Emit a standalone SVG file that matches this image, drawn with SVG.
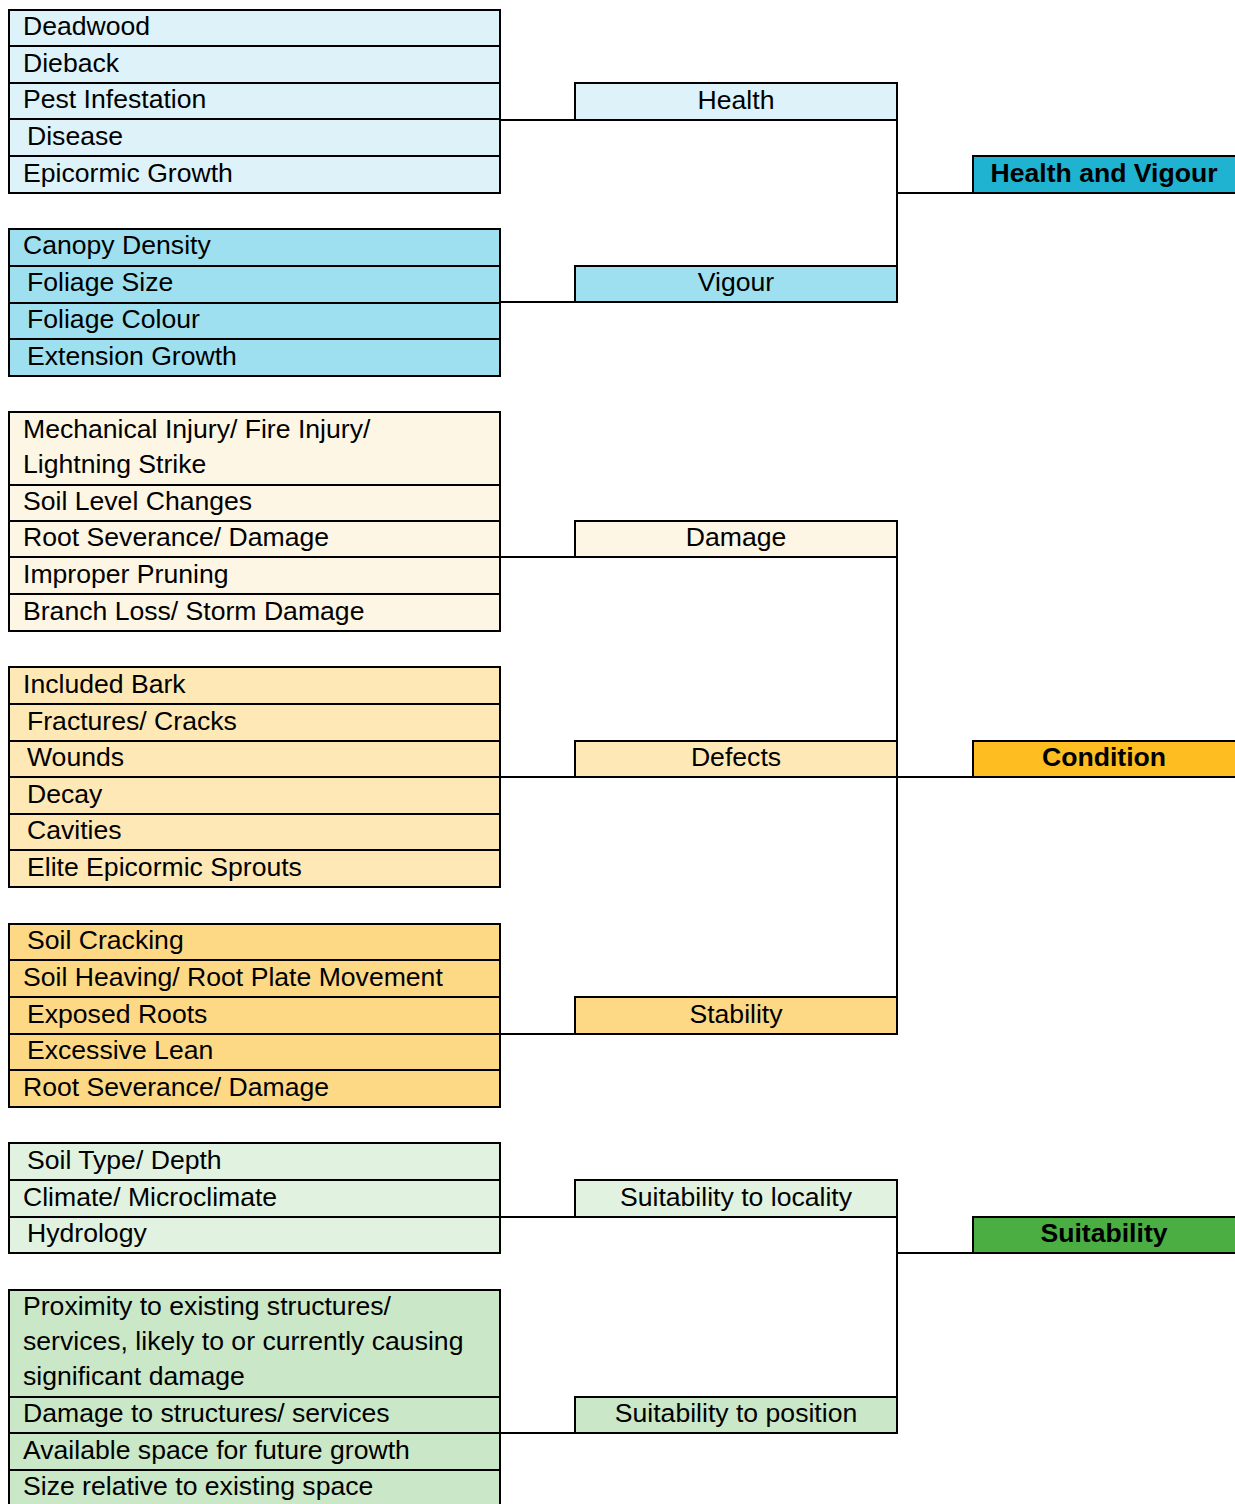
<svg xmlns="http://www.w3.org/2000/svg" width="1235" height="1504" viewBox="0 0 1235 1504">
<style>
rect{stroke:#000;stroke-width:2}
text{font-family:"Liberation Sans",Arial,sans-serif;font-size:26.6px;fill:#000}
.c{text-anchor:middle}
.b{font-weight:bold;text-anchor:middle}
.hl{fill:#DDF3F9}.vg{fill:#9EE0EF}.hv{fill:#1FB2D1}
.dm{fill:#FEF6E4}.df{fill:#FEE8B6}.st{fill:#FED985}.cn{fill:#FEBE21}
.lc{fill:#E2F2E0}.ps{fill:#CAE8C7}.su{fill:#4AAE43}
#connectors path{fill:none;stroke:#000;stroke-width:2}
</style>
<rect x="0" y="0" width="1235" height="1504" style="fill:#fff;stroke:none"/>
<g id="connectors">
<path d="M500,120H575M897,120V266M897,193H973"/>
<path d="M500,302H575"/>
<path d="M500,557H575M897,557V997M897,777H973"/>
<path d="M500,777H575"/>
<path d="M500,1034H575"/>
<path d="M500,1217H575M897,1217V1397M897,1253H973"/>
<path d="M500,1433H575"/>
</g>
<g id="health-items">
<rect class="hl" x="9" y="10" width="491" height="36"/><text x="23" y="35">Deadwood</text>
<rect class="hl" x="9" y="46" width="491" height="37"/><text x="23" y="72">Dieback</text>
<rect class="hl" x="9" y="83" width="491" height="36"/><text x="23" y="108">Pest Infestation</text>
<rect class="hl" x="9" y="119" width="491" height="37"/><text x="27" y="145">Disease</text>
<rect class="hl" x="9" y="156" width="491" height="37"/><text x="23" y="182">Epicormic Growth</text>
</g>
<g id="vigour-items">
<rect class="vg" x="9" y="229" width="491" height="37"/><text x="23" y="254">Canopy Density</text>
<rect class="vg" x="9" y="266" width="491" height="37"/><text x="27" y="291">Foliage Size</text>
<rect class="vg" x="9" y="303" width="491" height="36"/><text x="27" y="328">Foliage Colour</text>
<rect class="vg" x="9" y="339" width="491" height="37"/><text x="27" y="365">Extension Growth</text>
</g>
<g id="damage-items">
<rect class="dm" x="9" y="412" width="491" height="73"/><text x="23" y="438">Mechanical Injury/ Fire Injury/</text><text x="23" y="473">Lightning Strike</text>
<rect class="dm" x="9" y="485" width="491" height="36"/><text x="23" y="510">Soil Level Changes</text>
<rect class="dm" x="9" y="521" width="491" height="36"/><text x="23" y="546">Root Severance/ Damage</text>
<rect class="dm" x="9" y="557" width="491" height="37"/><text x="23" y="583">Improper Pruning</text>
<rect class="dm" x="9" y="594" width="491" height="37"/><text x="23" y="620">Branch Loss/ Storm Damage</text>
</g>
<g id="defects-items">
<rect class="df" x="9" y="667" width="491" height="37"/><text x="23" y="693">Included Bark</text>
<rect class="df" x="9" y="704" width="491" height="37"/><text x="27" y="730">Fractures/ Cracks</text>
<rect class="df" x="9" y="741" width="491" height="36"/><text x="27" y="766">Wounds</text>
<rect class="df" x="9" y="777" width="491" height="37"/><text x="27" y="803">Decay</text>
<rect class="df" x="9" y="814" width="491" height="36"/><text x="27" y="839">Cavities</text>
<rect class="df" x="9" y="850" width="491" height="37"/><text x="27" y="876">Elite Epicormic Sprouts</text>
</g>
<g id="stability-items">
<rect class="st" x="9" y="924" width="491" height="36"/><text x="27" y="949">Soil Cracking</text>
<rect class="st" x="9" y="960" width="491" height="37"/><text x="23" y="986">Soil Heaving/ Root Plate Movement</text>
<rect class="st" x="9" y="997" width="491" height="37"/><text x="27" y="1023">Exposed Roots</text>
<rect class="st" x="9" y="1034" width="491" height="36"/><text x="27" y="1059">Excessive Lean</text>
<rect class="st" x="9" y="1070" width="491" height="37"/><text x="23" y="1096">Root Severance/ Damage</text>
</g>
<g id="locality-items">
<rect class="lc" x="9" y="1143" width="491" height="37"/><text x="27" y="1169">Soil Type/ Depth</text>
<rect class="lc" x="9" y="1180" width="491" height="37"/><text x="23" y="1206">Climate/ Microclimate</text>
<rect class="lc" x="9" y="1217" width="491" height="36"/><text x="27" y="1242">Hydrology</text>
</g>
<g id="position-items">
<rect class="ps" x="9" y="1290" width="491" height="107"/><text x="23" y="1315">Proximity to existing structures/</text><text x="23" y="1350">services, likely to or currently causing</text><text x="23" y="1385">significant damage</text>
<rect class="ps" x="9" y="1397" width="491" height="36"/><text x="23" y="1422">Damage to structures/ services</text>
<rect class="ps" x="9" y="1433" width="491" height="37"/><text x="23" y="1459">Available space for future growth</text>
<rect class="ps" x="9" y="1470" width="491" height="40"/><text x="23" y="1495">Size relative to existing space</text>
</g>
<g id="health"><rect class="hl" x="575" y="83" width="322" height="37"/><text class="c" x="736" y="109">Health</text></g>
<g id="vigour"><rect class="vg" x="575" y="266" width="322" height="36"/><text class="c" x="736" y="291">Vigour</text></g>
<g id="damage"><rect class="dm" x="575" y="521" width="322" height="36"/><text class="c" x="736" y="546">Damage</text></g>
<g id="defects"><rect class="df" x="575" y="741" width="322" height="36"/><text class="c" x="736" y="766">Defects</text></g>
<g id="stability"><rect class="st" x="575" y="997" width="322" height="37"/><text class="c" x="736" y="1023">Stability</text></g>
<g id="locality"><rect class="lc" x="575" y="1180" width="322" height="37"/><text class="c" x="736" y="1206">Suitability to locality</text></g>
<g id="position"><rect class="ps" x="575" y="1397" width="322" height="36"/><text class="c" x="736" y="1422">Suitability to position</text></g>
<g id="health-vigour"><rect class="hv" x="973" y="156" width="266" height="37"/><text class="b" x="1104" y="182">Health and Vigour</text></g>
<g id="condition"><rect class="cn" x="973" y="741" width="266" height="36"/><text class="b" x="1104" y="766">Condition</text></g>
<g id="suitability"><rect class="su" x="973" y="1217" width="266" height="36"/><text class="b" x="1104" y="1242">Suitability</text></g>
</svg>
